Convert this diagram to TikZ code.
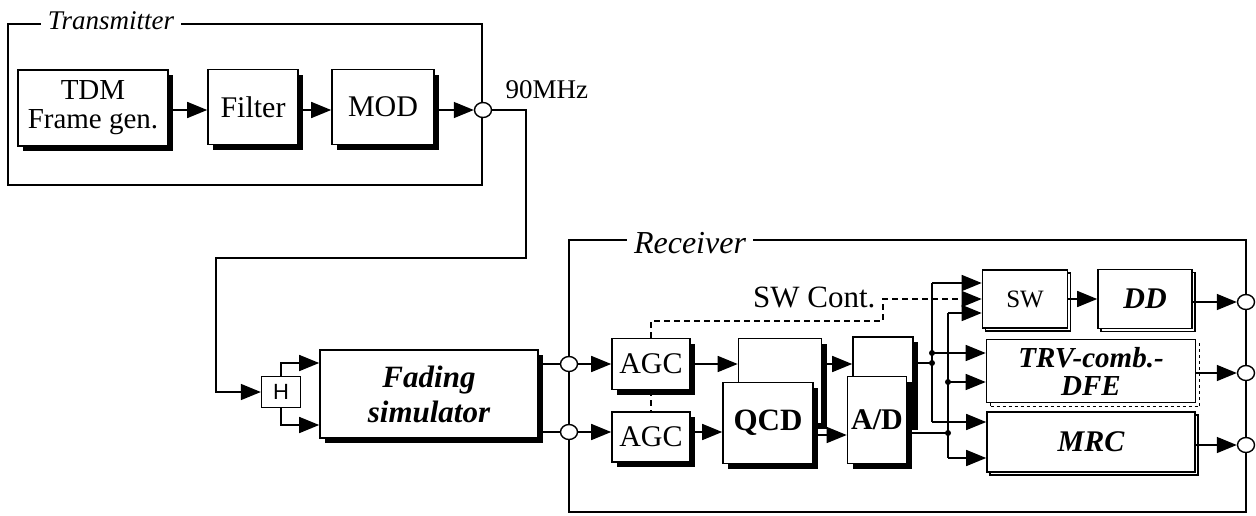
\documentclass[tikz,border=0pt]{standalone}
\usepackage{fontspec}
\setmainfont{Liberation Serif}
\newfontfamily\hfont{Liberation Sans}
\usepackage{tikz}
\usetikzlibrary{positioning,shapes.geometric,arrows.meta,shadows}

\newcommand\txt[1]{\fontsize{#1}{#1}\selectfont}

\tikzset{
  blk/.style={draw, line width=1.6pt, fill=white, inner sep=0pt, align=center, font=\txt{30}},
  sblk/.style={blk, drop shadow={shadow xshift=5pt, shadow yshift=-5pt, fill=black, opacity=1}},
  dblk/.style={blk, copy shadow={shadow xshift=3pt, shadow yshift=-3pt}},
  tblk/.style={blk, copy shadow={shadow xshift=4pt, shadow yshift=-4pt, dashed}},
  port/.style={ellipse, draw, line width=1.4pt, fill=white, minimum width=17pt, minimum height=15pt, inner sep=0pt},
  jdot/.style={circle, fill, inner sep=0pt, minimum size=6pt},
  wire/.style={line width=1.5pt},
  sig/.style={wire, -{Triangle[length=20pt,width=16pt]}},
  ctl/.style={line width=1.3pt, dash pattern=on 6pt off 4pt},
  frame/.style={line width=1.2pt},
  lbl/.style={fill=white, inner xsep=7pt, inner ysep=1pt},
}

\begin{document}
\begin{tikzpicture}[x=1pt, y=-1pt]
    \useasboundingbox (0,0) rectangle (1256,515);

    % transmitter
    \draw[frame] (8,24) rectangle (482,185);
    \node[lbl, anchor=base, font=\itshape\txt{27}] (txl) at (111,29) {Transmitter};

    \node[sblk, minimum width=150pt, minimum height=76pt, font={\fontsize{29}{29}\selectfont}] (tdm) at (93,108) {TDM\\Frame gen.};
    \node[sblk, minimum width=90pt, minimum height=75pt] (filt) at (253,107) {Filter};
    \node[sblk, minimum width=102pt, minimum height=75pt] (mod) at (383,107) {MOD};
    \node[port] (tx) at (483,110) {};
    \node[anchor=base west, font=\txt{27}] (mhz) at (502,98) {90MHz};

    \draw[sig] (tdm.east |- tx) -- (filt.west |- tx);
    \draw[sig] (filt.east |- tx) -- (mod.west |- tx);
    \draw[sig] (mod.east |- tx) -- (tx);

    % channel
    \coordinate (w1) at (526,258);
    \coordinate (w2) at (216,258);
    \node[blk, line width=1.3pt, minimum width=39pt, minimum height=31pt, font=\hfont\txt{22}] (hyb) at (281,392) {H};
    \node[sblk, minimum width=218pt, minimum height=88pt, font={\bfseries\itshape\fontsize{31}{35}\selectfont}] (fad) at (429,394) {Fading\\simulator};

    \draw[sig] (tx.east) -| (w1) -- (w2) |- (hyb);
    \draw[sig] (hyb.north) |- ([yshift=31pt]fad.west);
    \draw[sig] (hyb.south) |- ([yshift=-31pt]fad.west);

    % receiver
    \draw[frame] (569,240) rectangle (1246,512);
    \node[lbl, anchor=base, font=\itshape\txt{32}] (rxl) at (690,253) {Receiver};

    \node[port] (ri1) at (569,364) {};
    \node[port] (ri2) at (569,432) {};
    \draw[wire] (fad.east |- ri1) -- (ri1);
    \draw[wire] (fad.east |- ri2) -- (ri2);

    \node[sblk, minimum width=78pt, minimum height=51pt] (agc1) at (651,364) {AGC};
    \node[sblk, minimum width=78pt, minimum height=50pt] (agc2) at (651,437) {AGC};
    \draw[sig] (ri1) -- (agc1);
    \draw[sig] (ri2) -- (ri2 -| agc2.west);

    \node[sblk, minimum width=83pt, minimum height=85pt] (qcdb) at (780,381) {};
    \node[sblk, minimum width=90pt, minimum height=81pt, font=\bfseries\txt{31}] (qcd) at (768,423) {QCD};
    \draw[sig] (agc1.east) -- (agc1 -| qcdb.west);
    \draw[sig] (ri2 -| agc2.east) -- (ri2 -| qcd.west);

    \node[sblk, minimum width=60pt, minimum height=88pt] (adb) at (883,381) {};
    \node[sblk, minimum width=59pt, minimum height=87pt, font=\bfseries\txt{30}] (ad) at (877,420) {A/D};
    \draw[sig] (qcdb.east |- agc1) -- (adb.west |- agc1);
    \draw[sig] ([yshift=-12pt]qcd.east) -- ([yshift=-12pt]qcd.east -| ad.west);

    \node[dblk, minimum width=85pt, minimum height=58pt, font=\txt{25}] (sw) at (1025,299) {SW};
    \node[dblk, minimum width=94pt, minimum height=59pt, font=\bfseries\itshape\txt{30}] (dd) at (1145,299) {DD};
    \node[tblk, minimum width=209pt, minimum height=63pt, font={\bfseries\itshape\fontsize{29}{28}\selectfont}] (trv) at (1091,371) {TRV-comb.-\\DFE};
    \node[dblk, minimum width=208pt, minimum height=60pt, font=\bfseries\itshape\txt{30}] (mrc) at (1091,442) {MRC};

    % buses
    \coordinate (j1) at (932,363);
    \coordinate (j2) at (948,433);
    \coordinate (t1) at (932,353);
    \coordinate (t2) at (948,382);
    \coordinate (b1t) at (932,283);
    \coordinate (b1b) at (932,422);
    \coordinate (b2t) at (948,313);
    \coordinate (b2b) at (948,458);

    \draw[wire] (adb.east |- j1) -- (j1);
    \draw[wire] (ad.east |- j2) -- (j2);
    \draw[wire] (b1t) -- (b1b);
    \draw[wire] (b2t) -- (b2b);
    \draw[sig] (b1t) -- (b1t -| sw.west);
    \draw[sig] (b2t) -- (b2t -| sw.west);
    \draw[sig] (t1) -- (t1 -| trv.west);
    \draw[sig] (t2) -- (t2 -| trv.west);
    \draw[sig] (b1b) -- (b1b -| mrc.west);
    \draw[sig] (b2b) -- (b2b -| mrc.west);
    \foreach \j in {j1,j2,t1,t2}
        \node[jdot] at (\j) {};

    % switch control
    \coordinate (c1) at (883,321);
    \draw[ctl] (agc1.south) -- (agc2.north);
    \draw[ctl, -{Triangle[length=20pt,width=16pt]}] (agc1.north) |- (c1) |- (sw.west);
    \node[anchor=base east, font=\txt{31}] (swc) at (879,307) {SW Cont.};

    % outputs
    \node[port] (ro1) at (1246,302) {};
    \node[port] (ro2) at (1246,373) {};
    \node[port] (ro3) at (1246,445) {};
    \draw[sig] (sw) -- (dd);
    \draw[sig] (dd.east |- ro1) -- (ro1);
    \draw[sig] (trv.east |- ro2) -- (ro2);
    \draw[sig] (mrc.east |- ro3) -- (ro3);
\end{tikzpicture}
\end{document}
